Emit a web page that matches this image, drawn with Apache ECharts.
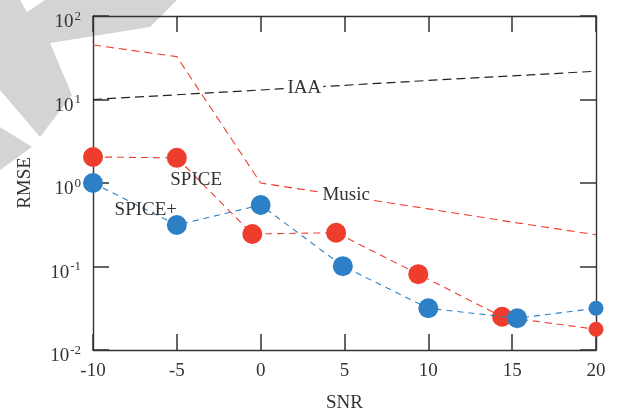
<!DOCTYPE html>
<html>
<head>
<meta charset="utf-8">
<script src="https://cdn.jsdelivr.net/npm/echarts@6/dist/echarts.min.js"></script>
<style>
  html, body { margin: 0; padding: 0; background: #fff; }
  #chart { width: 617px; height: 413px; }
</style>
</head>
<body>
<div id="chart"></div>
<script>
// values
var snr = [-10, -5, 0, 5, 10, 15, 20];
var iaa = [10, 11.4, 13.0, 14.8, 16.9, 19.2, 21.8];
var music = [45, 32.6, 1.0, 0.70, 0.49, 0.34, 0.24];

var spiceSnr = [-10, -5, -0.5, 4.5, 9.4, 14.4, 20];
var spice = [2.05, 2.0, 0.245, 0.254, 0.081, 0.025, 0.0177];

var spicePlusSnr = [-10, -5, 0, 4.9, 10, 15.3, 20];
var spicePlus = [1.0, 0.314, 0.545, 0.101, 0.0316, 0.024, 0.0316];

var xTicks = [-10, -5, 0, 5, 10, 15, 20];

// in-plot text labels, anchored in data coordinates [snr, rmse]
var lineLabels = [
    {text: 'IAA', at: [2.6, 13.9], bg: true},
    {text: 'Music', at: [5.1, 0.72], bg: true},
    {text: 'SPICE', at: [-3.85, 1.09], bg: false},
    {text: 'SPICE+', at: [-6.85, 0.475], bg: false}
];

var FONT = 'Liberation Serif';
var TXT = '#333';
var RED = '#ef3d2d';
var BLUE = '#2e80c6';

function pairs(xs, ys) {
    var out = [];
    for (var i = 0; i < xs.length; i++) out.push([xs[i], ys[i]]);
    return out;
}

function lastSmall(n) {
    return function (v, p) { return p.dataIndex === n - 1 ? 15 : 20; };
}

function axisLine() {
    return {onZero: false, lineStyle: {color: '#333', width: 1.4}};
}
function tick() {
    return {show: true, inside: true, length: 16, lineStyle: {color: '#333', width: 1.5}};
}

var chart = echarts.init(document.getElementById('chart'));

chart.setOption({
    animation: false,
    backgroundColor: '#fff',
    textStyle: {fontFamily: FONT},
    grid: {left: 93, right: 21, top: 16, bottom: 63, containLabel: false, outerBoundsMode: 'none'},
    xAxis: [{
        type: 'value',
        min: -10, max: 20, interval: 5,
        name: 'SNR',
        nameLocation: 'middle',
        nameGap: 44,
        nameTextStyle: {fontFamily: FONT, fontSize: 19, color: TXT},
        axisLine: axisLine(),
        axisTick: tick(),
        splitLine: {show: false},
        axisLabel: {
            fontFamily: FONT, fontSize: 19, color: TXT, margin: 12,
            formatter: function (v) { return xTicks.indexOf(v) >= 0 ? String(v) : ''; }
        }
    }, {
        type: 'value',
        position: 'top',
        min: -10, max: 20, interval: 5,
        axisLine: axisLine(),
        axisTick: tick(),
        axisLabel: {show: false},
        splitLine: {show: false}
    }],
    yAxis: [{
        type: 'log',
        logBase: 10,
        min: 0.01, max: 100,
        position: 'left',
        name: 'RMSE',
        nameLocation: 'middle',
        nameGap: 58,
        nameRotate: 90,
        nameTextStyle: {fontFamily: FONT, fontSize: 19, color: TXT},
        axisLine: axisLine(),
        axisTick: tick(),
        minorTick: {show: false},
        splitLine: {show: false},
        axisLabel: {
            margin: 12,
            padding: [10, 0, 0, 0],
            formatter: function (v) {
                var e = Math.round(Math.log(v) / Math.LN10);
                return '{b|10}{s|' + e + '}';
            },
            rich: {
                b: {fontFamily: FONT, fontSize: 19, color: TXT, lineHeight: 22, verticalAlign: 'bottom'},
                s: {fontFamily: FONT, fontSize: 13, color: TXT, lineHeight: 22, verticalAlign: 'top', padding: [0, 0, 8, 1]}
            }
        }
    }, {
        type: 'log',
        logBase: 10,
        min: 0.01, max: 100,
        position: 'right',
        axisLine: axisLine(),
        axisTick: tick(),
        axisLabel: {show: false},
        splitLine: {show: false}
    }],
    series: [{
        name: 'IAA',
        type: 'line',
        data: pairs(snr, iaa),
        showSymbol: false,
        symbol: 'none',
        lineStyle: {color: '#222', width: 1.2, type: [9, 5]},
        z: 2
    }, {
        name: 'Music',
        type: 'line',
        data: pairs(snr, music),
        showSymbol: false,
        symbol: 'none',
        lineStyle: {color: RED, width: 1.1, type: [8, 5]},
        z: 2
    }, {
        name: 'SPICE',
        type: 'line',
        data: pairs(spiceSnr, spice),
        symbol: 'circle',
        symbolSize: lastSmall(spice.length),
        clip: false,
        itemStyle: {color: RED, borderWidth: 0},
        lineStyle: {color: RED, width: 1.1, type: [7, 5]},
        z: 3
    }, {
        name: 'SPICE+',
        type: 'line',
        data: pairs(spicePlusSnr, spicePlus),
        symbol: 'circle',
        symbolSize: lastSmall(spicePlus.length),
        clip: false,
        itemStyle: {color: BLUE, borderWidth: 0},
        lineStyle: {color: BLUE, width: 1.1, type: [6, 5]},
        z: 4
    }]
});

// grey watermark fragment in the top-left corner
var graphics = [{
    type: 'polygon',
    z: -10,
    silent: true,
    shape: {points: [[0, 0], [20, 0], [27, 12], [45, 0], [177, 0], [150, 27], [50, 43], [72, 95], [40, 137], [0, 90]]},
    style: {fill: '#d4d4d4'}
}, {
    type: 'polygon',
    z: -10,
    silent: true,
    shape: {points: [[0, 127], [32, 147], [0, 170]]},
    style: {fill: '#d4d4d4'}
}];

lineLabels.forEach(function (l) {
    var p = chart.convertToPixel({xAxisIndex: 0, yAxisIndex: 0}, l.at);
    graphics.push({
        type: 'text',
        z: 100,
        x: p[0], y: p[1],
        style: {
            text: l.text,
            font: '19px "' + FONT + '"',
            fill: TXT,
            align: 'center',
            verticalAlign: 'middle',
            backgroundColor: l.bg ? '#fff' : null,
            padding: l.bg ? [0, 2] : 0
        }
    });
});

chart.setOption({graphic: graphics});
</script>
</body>
</html>
